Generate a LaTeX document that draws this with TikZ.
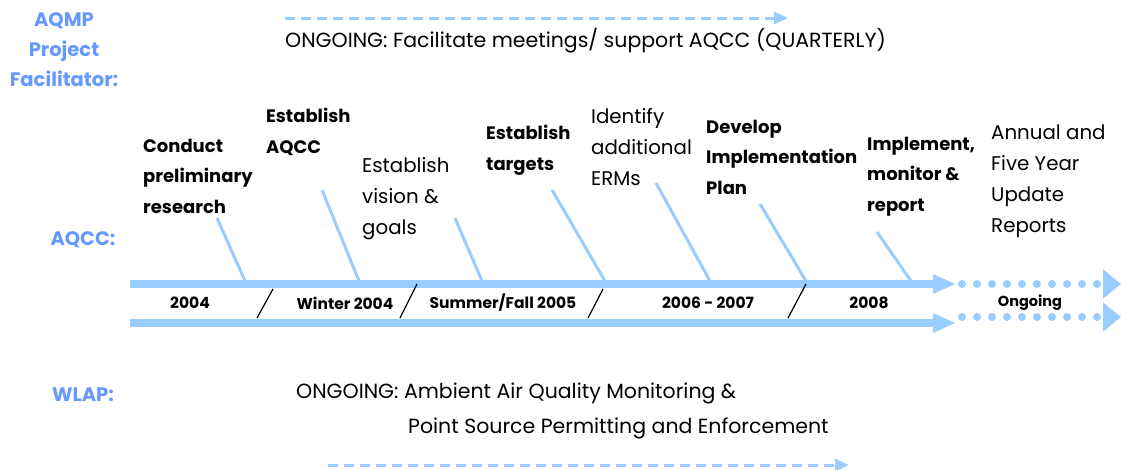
\documentclass[tikz,border=0pt]{standalone}
\usepackage{fontspec}
\setmainfont{Poppins}
\usetikzlibrary{arrows.meta}
\definecolor{headblue}{RGB}{102,153,255}
\definecolor{barblue}{RGB}{153,204,255}

\begin{document}
\begin{tikzpicture}[x=1pt,y=-1pt,
		lane/.style={font=\bfseries\fontsize{19.5}{30}\selectfont, text=headblue, align=center, inner sep=0pt},
		task/.style={font=\fontsize{19.8}{31}\selectfont, align=left, anchor=west, inner sep=0pt},
		boldtask/.style={task, font=\bfseries\fontsize{18}{30.5}\selectfont},
		year/.style={font=\bfseries\fontsize{15.5}{17}\selectfont, inner sep=0pt},
		note/.style={font=\fontsize{20.5}{24}\selectfont, anchor=west, inner sep=0pt},
		bar/.style={barblue, line width=8pt, -{Triangle[length=23pt,width=18pt]}},
		dots/.style={barblue, line width=8pt, line cap=round, dash pattern=on 0pt off 15pt, -{Triangle[length=18pt,width=28pt]}},
		leader/.style={barblue, line width=3pt},
		ongoing/.style={barblue, line width=3pt, dash pattern=on 10pt off 6pt, -{Triangle[length=14pt,width=12pt]}},
		cut/.style={black, line width=1.2pt}]
		\useasboundingbox (0,0) rectangle (1121,469);

		\node[lane] (facil) at (64,50) {AQMP\\Project\\Facilitator:};
		\node[lane] (aqcc) at (83,240) {AQCC:};
		\node[lane] (wlap) at (83,395) {WLAP:};

		\coordinate (topA) at (285,18);
		\coordinate (topB) at (788,18);
		\draw[ongoing] (topA) -- (topB);
		\node[note] (meet) at (285,41) {ONGOING: Facilitate meetings/ support AQCC (QUARTERLY)};

		\coordinate (upA) at (130,284);
		\coordinate (upB) at (956,284);
		\coordinate (loA) at (130,323);
		\coordinate (loB) at (956,323);
		\draw[bar] (upA) -- (upB);
		\draw[bar] (loA) -- (loB);
		\coordinate (updA) at (962,284);
		\coordinate (updB) at (1121,284);
		\coordinate (lodA) at (962,317);
		\coordinate (lodB) at (1121,317);
		\draw[dots] (updA) -- (updB);
		\draw[dots] (lodA) -- (lodB);

		\coordinate (c1a) at (257,318); \coordinate (c1b) at (273,289);
		\coordinate (c2a) at (400,318); \coordinate (c2b) at (417,284);
		\coordinate (c3a) at (588,318); \coordinate (c3b) at (603,289);
		\coordinate (c4a) at (788,318); \coordinate (c4b) at (806,284);
		\foreach \i in {1,...,4} \draw[cut] (c\i a) -- (c\i b);

		\node[year] (y1) at (190,303) {2004};
		\node[year] (y2) at (345,303) {Winter 2004};
		\node[year] (y3) at (503,303) {Summer/Fall 2005};
		\node[year] (y4) at (708,303) {2006 - 2007};
		\node[year] (y5) at (869,303) {2008};
		\node[year, font=\bfseries\fontsize{14.5}{16}\selectfont] (y6) at (1030,303) {Ongoing};

		\node[boldtask] (research) at (143,176) {Conduct\\preliminary\\research};
		\node[boldtask] (setaqcc) at (266,132) {Establish\\AQCC};
		\node[task] (vision) at (362,199) {Establish\\vision \&\\goals};
		\node[boldtask] (targets) at (486,150.5) {Establish\\targets};
		\node[task] (erms) at (591,147) {Identify\\additional\\ERMs};
		\node[boldtask] (plan) at (706,157) {Develop\\Implementation\\Plan};
		\node[boldtask] (report) at (867,176.5) {Implement,\\monitor \&\\report};
		\node[task] (annual) at (991,181.5) {Annual and\\Five Year\\Update\\Reports};

		\coordinate (l1a) at (217,218); \coordinate (l1b) at (245,281);
		\coordinate (l2a) at (322,190); \coordinate (l2b) at (359,281);
		\coordinate (l3a) at (455,218); \coordinate (l3b) at (482,281);
		\coordinate (l4a) at (552,190); \coordinate (l4b) at (605,281);
		\coordinate (l5a) at (656,183); \coordinate (l5b) at (710,281);
		\coordinate (l6a) at (760,204); \coordinate (l6b) at (806,281);
		\coordinate (l7a) at (877,232); \coordinate (l7b) at (911,281);
		\foreach \i in {1,...,7} \draw[leader] (l\i a) -- (l\i b);

		\node[note] (monitor) at (296,393) {ONGOING: Ambient Air Quality Monitoring \&};
		\node[note] (permit) at (408,428) {Point Source Permitting and Enforcement};
		\coordinate (botA) at (328,465);
		\coordinate (botB) at (849,465);
		\draw[ongoing] (botA) -- (botB);
		\end{tikzpicture}
\end{document}
